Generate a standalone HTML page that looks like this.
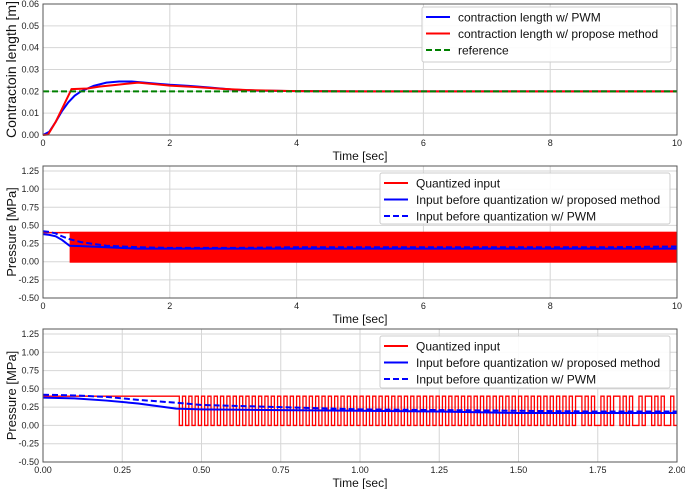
<!DOCTYPE html>
<html><head><meta charset="utf-8">
<style>
html,body{margin:0;padding:0;background:#fff;}
svg{display:block;font-family:"Liberation Sans","Noto Sans CJK JP",sans-serif;}
</style></head>
<body>
<svg id="chart" width="685" height="489" viewBox="0 0 685 489" xmlns="http://www.w3.org/2000/svg"></svg>
<script>
// ---- data ----
const p1Time = [0,0.1,0.2,0.3,0.4,0.5,0.6,0.8,1.0,1.2,1.4,1.6,1.8,2.0,2.3,2.6,3.0,3.4,4,5,6,7,8,9,10];
const p1Pwm  = [0,0.0015,0.006,0.011,0.015,0.018,0.0200,0.0225,0.0240,0.0245,0.0245,0.0240,0.0235,0.0230,0.0225,0.0218,0.0208,0.0203,0.0201,0.0200,0.0200,0.0200,0.0200,0.0200,0.0200];
const p1PropTime = [0,0.08,0.2,0.3,0.45,0.7,0.9,1.1,1.3,1.5,1.8,2.0,2.4,2.8,3.2,3.6,4,5,6,7,8,9,10];
const p1Prop = [0,0.0002,0.006,0.012,0.021,0.0213,0.0222,0.0228,0.0234,0.0240,0.0232,0.0226,0.0220,0.0212,0.0206,0.0203,0.0201,0.0200,0.0200,0.0200,0.0200,0.0200,0.0200];
const p1Reference = 0.02;
const p1YTicks = [0,0.01,0.02,0.03,0.04,0.05,0.06];
const p1XTicks = [0,2,4,6,8,10];

const p2Time = [0,0.1,0.2,0.3,0.42,0.6,1.0,1.5,2,3,4,5,6,7,8,9,10];
const p2Prop = [0.38,0.37,0.35,0.30,0.22,0.215,0.20,0.18,0.18,0.18,0.18,0.18,0.18,0.18,0.18,0.18,0.18];
const p2Pwm  = [0.42,0.41,0.39,0.35,0.31,0.27,0.22,0.20,0.19,0.19,0.20,0.20,0.20,0.20,0.20,0.20,0.21];
const p2SwitchStart = 0.42;
const p2SwitchEnd = 10;
const qHigh = 0.4, qLow = 0;
const p2XTicks = [0,2,4,6,8,10];
const pYTicks = [-0.5,-0.25,0,0.25,0.5,0.75,1.0,1.25];

const p3Time = [0,0.1,0.2,0.3,0.42,0.5,0.75,1.0,1.25,1.5,1.75,2.0];
const p3Prop = [0.38,0.37,0.34,0.30,0.23,0.22,0.21,0.20,0.19,0.17,0.17,0.17];
const p3Pwm  = [0.42,0.41,0.39,0.35,0.31,0.28,0.25,0.22,0.21,0.20,0.19,0.19];
// quantized input, one bit per 0.01 s (1 = 0.4 MPa, 0 = 0 MPa)
const p3Bits = "111111111111111111111111111111111111111111" +
  "10101010101010101010101010101010101010101010101010101010101010101010101010101010" +
  "101010101010101010101010101010101010101010101011010100101011010100101101010010";
const p3XTicks = [0,0.25,0.5,0.75,1.0,1.25,1.5,1.75,2.0];

// ---- helpers ----
const NS = "http://www.w3.org/2000/svg";
const svg = document.getElementById('chart');
function mk(tag, attrs, parent){
  const e = document.createElementNS(NS, tag);
  for (const k in attrs) e.setAttribute(k, attrs[k]);
  (parent||svg).appendChild(e);
  return e;
}
function scale(d0,d1,r0,r1){ return v => r0 + (v-d0)/(d1-d0)*(r1-r0); }
function pathFrom(xs, ys, sx, sy){
  return xs.map((t,i)=>(i?'L':'M')+sx(t).toFixed(2)+','+sy(ys[i]).toFixed(2)).join('');
}

function axesFrame(g, X0, X1, top, bottom, sx, sy, xt, yt, xfmt, yfmt, ylabel, ysize){
  for (const v of yt){
    const l = mk('line',{x1:X0,x2:X1,y1:sy(v),y2:sy(v),stroke:'#d6d6d6','stroke-width':1},g);
    
    
    const t = mk('text',{x:X0-4,y:sy(v)+3,'font-size':9,'text-anchor':'end',fill:'#222'},g);
    
    
    t.textContent = yfmt(v);
  }
  for (const v of xt){
    const l = mk('line',{x1:sx(v),x2:sx(v),y1:top,y2:bottom,stroke:'#d6d6d6','stroke-width':1},g);
    
    
    const t = mk('text',{x:sx(v),y:bottom+11,'font-size':9,'text-anchor':'middle',fill:'#222'},g);
    
    
    t.textContent = xfmt(v);
  }
  const xl = mk('text',{x:(X0+X1)/2,y:bottom+25,'font-size':12,'text-anchor':'middle',fill:'#111'},g);
  
  
  xl.textContent = 'Time [sec]';
  const yl = mk('text',{x:0,y:0,'font-size':ysize,'text-anchor':'middle',fill:'#111',transform:`translate(16,${(top+bottom)/2}) rotate(-90)`},g);
  
  
  yl.textContent = ylabel;
}
function frame(g,X0,X1,top,bottom){
  const r = mk('rect',{x:X0,y:top,width:X1-X0,height:bottom-top,fill:'none',stroke:'#555','stroke-width':1},g);
  
  
}
function legend(g, x, y, w, h, items){
  const lg = mk('g',{},g);
  
  
  mk('rect',{x:x,y:y,width:w,height:h,rx:2,fill:'#fff','fill-opacity':0.9,stroke:'#ccc'},lg);
  items.forEach((it,i)=>{
    const e = mk('g',{},lg);
    
    
    const cy = y + 10 + i*16.5;
    mk('line',{x1:x+4,x2:x+28,y1:cy,y2:cy,stroke:it.c,'stroke-width':2,'stroke-dasharray':it.d||'none'},e);
    const t = mk('text',{x:x+36,y:cy+4.5,'font-size':12,fill:'#111'},e);
    t.textContent = it.t;
  });
}

const X0 = 43, X1 = 677;

// ---- panel 1 ----
(function(){
  const g = mk('g',{});  
  const top=4,bottom=135;
  const sx = scale(0,10,X0,X1), sy = scale(0,0.06,bottom,top);
  axesFrame(g,X0,X1,top,bottom,sx,sy,p1XTicks,p1YTicks,v=>String(v),v=>v.toFixed(2),'Contractoin length [m]',14);
  const b = mk('path',{d:pathFrom(p1Time,p1Pwm,sx,sy),fill:'none',stroke:'#0000ff','stroke-width':2},g);
   
  const r = mk('path',{d:pathFrom(p1PropTime,p1Prop,sx,sy),fill:'none',stroke:'#ff0000','stroke-width':2},g);
   
  const ref = mk('line',{x1:sx(0),x2:sx(10),y1:sy(p1Reference),y2:sy(p1Reference),stroke:'#008000','stroke-width':2,'stroke-dasharray':'6,3'},g);
   
  frame(g,X0,X1,top,bottom);
  legend(g,422,7,249,55,[{c:'#0000ff',t:'contraction length w/ PWM'},{c:'#ff0000',t:'contraction length w/ propose method'},{c:'#008000',t:'reference',d:'6,3'}]);
})();

// ---- panel 2 ----
(function(){
  const g = mk('g',{});  
  const top=166,bottom=298;
  const sx = scale(0,10,X0,X1), sy = scale(-0.5,1.25,bottom,171);
  axesFrame(g,X0,X1,top,bottom,sx,sy,p2XTicks,pYTicks,v=>String(v),v=>v.toFixed(2),'Pressure [MPa]',13);
  const q = mk('path',{d:`M${sx(0)},${sy(qHigh)}L${sx(p2SwitchStart)},${sy(qHigh)}`,fill:'none',stroke:'#ff0000','stroke-width':1.5},g);
   
  const rr = mk('rect',{x:sx(p2SwitchStart),y:sy(qHigh)-1,width:sx(p2SwitchEnd)-sx(p2SwitchStart),height:sy(qLow)-sy(qHigh)+2,fill:'#ff0000'},g);
   
  const b = mk('path',{d:pathFrom(p2Time,p2Prop,sx,sy),fill:'none',stroke:'#0000ff','stroke-width':2},g);
   
  const d = mk('path',{d:pathFrom(p2Time,p2Pwm,sx,sy),fill:'none',stroke:'#0000ff','stroke-width':2,'stroke-dasharray':'6,3'},g);
   
  frame(g,X0,X1,top,bottom);
  legend(g,380,173,290,51,[{c:'#ff0000',t:'Quantized input'},{c:'#0000ff',t:'Input before quantization w/ proposed method'},{c:'#0000ff',t:'Input before quantization w/ PWM',d:'6,3'}]);
})();

// ---- panel 3 ----
(function(){
  const g = mk('g',{});  
  const top=329,bottom=462;
  const sx = scale(0,2,X0,X1), sy = scale(-0.5,1.25,bottom,334);
  axesFrame(g,X0,X1,top,bottom,sx,sy,p3XTicks,pYTicks,v=>v.toFixed(2),v=>v.toFixed(2),'Pressure [MPa]',13);
  let d = '';
  const n = Math.min(p3Bits.length, 200);
  for (let i=0;i<n;i++){
    const v = p3Bits[i]==='1'?qHigh:qLow;
    const t0 = i*0.01, t1 = (i+1)*0.01;
    d += (i?'L':'M')+sx(t0).toFixed(2)+','+sy(v).toFixed(2)+'L'+sx(t1).toFixed(2)+','+sy(v).toFixed(2);
  }
  const cp = mk('clipPath',{id:'clip3'},g);
  mk('rect',{x:X0,y:top,width:X1-X0,height:bottom-top},cp);
  const q = mk('path',{d:d,fill:'none',stroke:'#ff0000','stroke-width':1.3,'clip-path':'url(#clip3)'},g);
   
  const b = mk('path',{d:pathFrom(p3Time,p3Prop,sx,sy),fill:'none',stroke:'#0000ff','stroke-width':2},g);
   
  const dd = mk('path',{d:pathFrom(p3Time,p3Pwm,sx,sy),fill:'none',stroke:'#0000ff','stroke-width':2,'stroke-dasharray':'6,3'},g);
   
  frame(g,X0,X1,top,bottom);
  legend(g,380,336,290,52,[{c:'#ff0000',t:'Quantized input'},{c:'#0000ff',t:'Input before quantization w/ proposed method'},{c:'#0000ff',t:'Input before quantization w/ PWM',d:'6,3'}]);
})();
</script>
</body></html>
